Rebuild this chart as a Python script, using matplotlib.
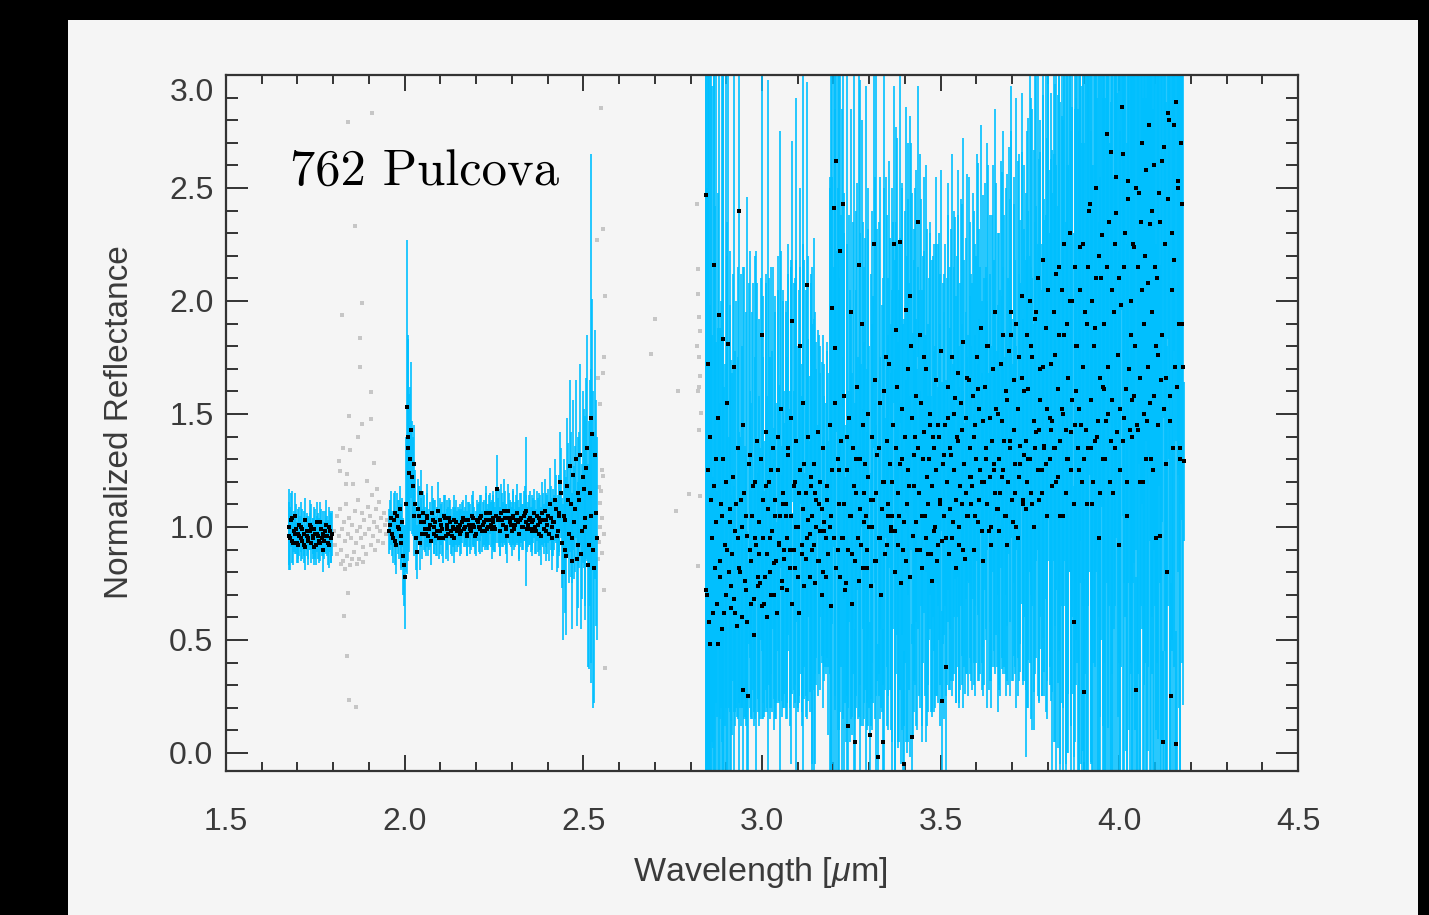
import numpy as np
import matplotlib
matplotlib.use("Agg")
import matplotlib.pyplot as plt
from matplotlib.patches import Rectangle
from matplotlib.ticker import MultipleLocator, FuncFormatter
import matplotlib.transforms as mtransforms

plt.rcParams['font.family'] = ['Liberation Sans', 'DejaVu Sans']
plt.rcParams['mathtext.fontset'] = 'custom'
plt.rcParams['mathtext.rm'] = 'Liberation Sans'
plt.rcParams['mathtext.it'] = 'Liberation Sans:italic'

# ---------------- data ----------------
# segment A (black points with error bars), ~1.68-1.80 um
segA_range = (1.675, 1.797)
segA_y = [1.00,0.95,1.04,0.93,0.97,0.99,0.92,0.96,1.00,0.94,0.97,0.91,0.98,0.95,1.01,
          0.93,0.96,0.99,0.92,0.97,0.94,1.02,0.95,0.90,0.98,0.96,0.93,1.00,0.95,0.97]
segA_err = [0.17,0.14,0.12,0.10,0.09,0.11,0.08,0.09,0.11,0.08,0.10,0.10,0.08,0.09,0.11,
            0.09,0.08,0.10,0.09,0.08,0.10,0.09,0.08,0.10,0.09,0.08,0.10,0.09,0.11,0.10]
segA2_range = (1.677, 1.795)
segA2_y = [0.96,1.03,0.94,0.98,1.05,0.93,0.97,1.01,0.95,0.99,0.92,1.03,0.96,0.94,0.98,
           1.00,0.95,0.91,0.97,1.02,0.96,0.93,0.99,0.97,0.94,1.01,0.96,0.92,0.98,0.95]
segA2_err = [0.15,0.12,0.10,0.09,0.10,0.09,0.11,0.08,0.10,0.09,0.08,0.10,0.09,0.11,0.08,
             0.10,0.09,0.08,0.11,0.09,0.10,0.08,0.09,0.10,0.08,0.11,0.09,0.10,0.09,0.11]

# gray (excluded) points between segments
gray1_x = [1.841,1.909,1.860,1.880,1.824,1.876,1.876,1.905,1.844,1.881,1.906,1.869,1.827,1.847,
           1.817,1.914,1.819,1.840,1.836,1.855,1.894,1.922,1.842,1.830,1.840,1.844,1.863,1.822,
           1.833,1.868,1.884,1.852,
           1.803,1.806,1.810,1.812,1.815,1.818,1.821,1.824,1.827,1.830,1.833,1.836,1.839,1.842,
           1.845,1.848,1.851,1.854,1.857,1.860,1.863,1.866,1.869,1.872,1.875,1.878,1.881,1.884,
           1.887,1.890,1.893,1.896,1.899,1.902,1.905,1.908,1.911,1.914,1.917,1.920,1.923,1.926,
           1.929,1.932,1.935,1.938,1.941,1.944,1.947,1.950]
gray1_y = [2.79,2.83,2.33,1.99,1.94,1.835,1.71,1.595,1.49,1.457,1.477,1.40,1.35,1.34,
           1.29,1.283,1.249,1.234,1.19,1.19,1.205,1.166,0.707,0.604,0.429,0.233,0.202,0.836,
           0.812,0.834,0.843,0.856,
           0.98,0.92,1.05,0.88,0.96,1.08,0.90,0.99,0.85,1.02,0.94,1.10,0.87,0.97,
           1.04,0.83,0.95,1.01,0.89,1.07,0.93,0.98,1.12,0.86,1.00,0.95,1.06,0.91,
           1.03,0.97,0.88,1.09,0.99,1.05,0.92,1.14,0.96,1.02,0.90,1.08,1.00,0.94,
           1.11,0.98,1.04,0.93,1.06,1.01,0.97,1.03]

gray2_x = [2.549,2.554,2.537,2.561,2.558,2.554,2.540,2.547,2.552,2.556,2.545,2.550,2.548,2.553,
           2.546,2.557,2.544,2.551,2.542,2.559,2.560,2.700,2.690,2.765,2.795,2.760,2.818,2.820,
           2.822,2.824,2.826,2.819,2.823,2.827,2.821,2.825,2.828,2.824,2.826,2.822]
gray2_y = [2.855,2.32,2.27,2.02,1.75,1.68,1.66,1.545,1.254,1.225,1.176,1.157,1.108,1.04,
           1.00,0.967,0.934,0.885,0.856,0.72,0.375,1.92,1.767,1.60,1.147,1.069,2.43,2.14,
           2.03,1.93,1.865,1.80,1.75,1.67,1.60,1.62,1.506,1.428,1.137,0.827]

# segment B, ~1.96-2.54 um (two interleaved sets of samples)
segB_range = (1.957, 2.535)
segB_y = ([0.98,1.04,0.95,1.06,0.92,1.00,1.08,0.96,0.87,0.78,1.53,1.40,1.30,1.22,1.28,1.10,0.89,1.05,1.15,0.97]
        + [1.02,0.97,1.05,0.99,0.94,1.03,1.00,0.96,1.07,0.98,1.01,0.95,1.04,0.99,0.97,1.02,0.96,1.03,0.99,0.98]
        + [1.00,0.97,1.02,0.99,1.03,0.96,1.01,0.98,1.04,1.00,0.97,1.02,0.99,1.05,1.01,0.98,1.03,1.00,1.06,0.99]
        + [1.02,0.99,1.17,1.04,0.98,1.03,1.07,1.00,0.96,1.04,1.01,1.05,0.99,1.03,1.02,0.97,1.04,1.00,1.06,1.07]
        + [1.01,1.04,0.98,1.03,1.00,1.05,0.97,1.02,1.06,0.99,1.03,1.01,0.97,1.04,1.00,1.02,1.08,0.98,1.05,1.15]
        + [0.80,1.03,0.87,1.12,1.27,0.95,1.23,1.08,0.86,1.15,1.32,0.98,1.17,1.04,1.35,0.92,1.48,1.41,0.82,1.06])
segB_err = ([.10,.12,.11,.10,.13,.12,.10,.14,.17,.23,.74,.43,.32,.25,.17,.15,.12,.13,.10,.11]
          + [.12,.10,.14,.09,.11,.10,.12,.09,.13,.10,.09,.11,.10,.09,.12,.10,.09,.11,.10,.09]
          + [.08,.10,.09,.08,.11,.09,.10,.08,.12,.09,.10,.08,.11,.09,.10,.08,.12,.10,.09,.13]
          + [.12,.10,.15,.13,.11,.12,.14,.10,.12,.11,.10,.12,.09,.11,.10,.12,.11,.10,.12,.33]
          + [.10,.12,.11,.10,.12,.11,.10,.12,.14,.11,.12,.13,.12,.14,.13,.12,.15,.16,.18,.20]
          + [.30,.22,.35,.25,.38,.20,.33,.28,.30,.25,.40,.30,.35,.45,.50,.55,1.17,.60,.60,.50])
segB2_range = (1.9594, 2.5374)
segB2_y = ([1.01,0.97,1.03,0.94,1.05,0.99,0.93,1.02,0.83,1.10,1.35,1.24,1.43,1.18,1.05,0.95,1.08,0.93,1.02,1.06]
         + [0.99,1.04,0.96,1.01,1.06,0.97,1.02,0.98,0.95,1.03,0.99,1.05,0.96,1.01,1.04,0.98,1.00,0.95,1.02,1.00]
         + [1.01,0.98,1.04,1.00,0.97,1.03,0.99,1.05,1.01,0.96,1.03,1.00,1.04,0.98,1.02,1.06,0.99,1.03,1.01,1.04]
         + [1.00,1.05,1.03,0.98,1.06,1.01,1.04,0.99,1.07,1.02,0.98,1.04,1.01,1.06,0.97,1.03,1.00,1.05,1.02,0.99]
         + [1.03,0.99,1.02,1.06,0.98,1.01,1.04,0.96,1.03,1.07,0.98,1.05,1.10,0.95,1.02,1.12,0.96,1.06,1.20,0.93]
         + [1.05,0.90,1.18,0.97,1.10,0.85,1.02,1.30,0.92,1.12,0.88,1.22,1.00,1.26,0.83,1.15,1.05,0.90,1.32,0.95])
segB2_err = ([.11,.10,.12,.11,.10,.13,.12,.11,.18,.30,.50,.35,.30,.22,.18,.14,.13,.12,.11,.10]
           + [.10,.11,.09,.10,.12,.09,.10,.11,.09,.10,.12,.09,.10,.11,.09,.10,.09,.11,.10,.09]
           + [.09,.10,.08,.09,.10,.08,.11,.09,.10,.08,.09,.11,.10,.09,.10,.12,.09,.11,.10,.12]
           + [.11,.12,.10,.11,.13,.10,.12,.11,.12,.10,.11,.12,.10,.13,.11,.12,.10,.11,.12,.10]
           + [.11,.10,.12,.11,.10,.12,.11,.13,.12,.14,.13,.12,.16,.14,.15,.18,.16,.17,.22,.20]
           + [.25,.28,.30,.22,.32,.30,.25,.35,.28,.30,.33,.38,.35,.40,.45,.50,.65,.70,.55,.45])

# segment C (L band), ~2.84-4.18 um (two interleaved sets of samples)
segC_range = (2.842, 4.182)
segC_y = ([2.47,0.70,1.72,0.48,1.12,0.95,2.16,0.82,1.30,0.48,1.94,0.78,1.05,1.83,0.62,1.20,0.90,1.81,1.02,0.74]
        + [0.88,1.71,0.62,1.10,0.95,2.40,0.80,1.00,0.28,1.15,0.72,0.96,0.25,1.32,0.85,1.05,0.68,1.20,0.92,0.78]
        + [1.02,0.75,1.85,0.95,0.66,1.18,0.88,1.08,0.80,1.25,0.98,0.70,1.12,0.85,1.40,0.93,1.05,0.76,1.15,0.90]
        + [1.10,0.95,1.35,0.82,1.05,1.91,0.90,1.20,1.00,0.78,1.15,1.80,0.92,1.08,1.28,0.86,2.07,1.03,0.97,1.18]
        + [1.05,0.92,1.15,1.00,0.85,1.10,0.98,1.08,0.80,1.02,0.95,1.12,0.88,1.00,1.05,1.97,2.41,1.79,2.62,0.90]
        + [1.25,2.22,0.95,2.43,1.10,0.75,1.40,0.12,1.05,1.95,0.88,1.18,0.05,1.30,0.95,2.16,1.08,1.90,0.82,1.15]
        + [1.05,0.90,1.22,0.08,1.12,1.00,2.25,0.85,1.15,-0.02,1.35,0.95,1.08,0.05,1.20,1.75,0.92,1.10,1.28,1.00]
        + [1.20,2.25,0.98,1.87,1.15,1.05,2.26,1.30,0.90,-0.05,1.96,1.10,1.25,2.02,1.80,0.07,1.18,1.40,1.02,2.35]
        + [1.15,1.85,1.05,1.30,1.75,0.95,1.22,1.10,1.45,0.88,1.18,1.35,1.00,1.25,0.92,1.40,1.12,0.23,1.28,1.05]
        + [0.38,1.20,1.48,1.08,1.32,0.95,1.25,1.57,1.12,1.38,1.00,1.18,1.43,0.90,1.28,1.15,1.66,1.05,1.35,1.22]
        + [1.18,1.40,1.05,1.30,1.61,1.12,1.25,0.98,1.47,1.20,1.35,1.10,1.80,1.22,1.00,1.38,1.28,1.15,1.52,1.08]
        + [1.30,1.15,1.47,1.25,1.38,1.05,1.56,1.20,1.35,1.85,1.12,1.43,1.28,1.00,1.52,1.22,1.36,1.66,1.10,1.32]
        + [1.38,1.20,1.61,1.30,1.80,1.10,1.47,1.35,1.95,1.25,1.43,1.56,1.15,1.71,1.36,1.28,1.52,2.05,1.30,1.43]
        + [1.47,1.35,1.76,1.20,1.61,2.15,1.38,1.52,1.05,1.85,1.43,1.30,1.66,2.00,1.25,1.56,0.58,1.45,1.80,1.35]
        + [1.52,2.24,1.20,1.71,0.27,1.43,1.90,1.35,2.43,1.56,1.10,1.80,1.38,2.10,1.47,0.95,1.66,2.29,1.30,1.61]
        + [1.47,2.74,1.71,1.20,2.66,1.56,1.95,1.35,2.39,1.76,0.92,1.52,2.86,1.38,2.15,1.61,1.05,2.53,1.43,1.85]
        + [1.56,2.24,1.80,0.28,1.43,2.48,1.66,2.05,1.20,1.90,2.58,1.47,1.71,2.34,1.30,1.95,1.58,2.15,0.95,1.76]
        + [2.48,0.96,1.85,0.05,2.68,1.66,0.80,2.83,1.47,0.25,2.05,2.78,1.71,0.04,2.53,1.90,1.35,2.43,1.71,1.29])
segC_err = ([2.6,1.8,2.4,1.5,2.2,2.0,2.5,1.6,2.3,1.4,2.4,1.1,2.0,2.3,1.0,2.2,1.3,2.4,1.2,1.0]
          + [0.8,2.2,0.5,0.9,0.8,2.5,0.6,0.8,0.5,1.0,0.6,1.5,0.6,0.9,0.7,0.9,0.5,1.0,1.3,0.6]
          + [0.9,0.6,1.4,0.8,0.5,0.9,0.7,1.9,0.6,0.9,0.8,0.6,0.9,0.7,0.8,0.7,1.7,0.6,0.9,0.7]
          + [0.9,0.8,0.9,0.7,1.1,0.8,0.7,0.9,1.9,0.6,0.9,0.7,0.8,2.1,0.9,0.7,0.9,0.8,0.7,0.9]
          + [1.1,1.0,0.8,0.7,0.6,0.75,0.7,0.65,0.6,0.7,0.6,0.7,0.8,1.5,2.0,1.4,1.5,1.6,1.2,2.2]
          + [2.0,1.0,1.9,0.9,1.2,0.7,1.7,0.6,1.0,0.9,0.8,1.9,0.5,1.1,0.8,0.9,1.9,0.9,0.7,1.0]
          + [1.9,0.8,1.1,0.5,1.0,0.9,0.9,0.7,2.0,0.5,1.0,0.8,0.9,0.5,1.9,0.8,0.8,1.0,1.0,0.9]
          + [1.3,0.7,1.2,0.9,1.1,1.0,0.8,1.2,1.0,0.5,0.9,1.1,1.2,0.8,0.9,0.5,1.0,1.1,0.9,0.6]
          + [0.9,0.8,1.0,0.9,0.8,0.9,1.1,0.8,0.9,0.7,1.0,0.9,0.8,1.0,0.7,0.9,1.0,0.4,0.8,0.9]
          + [0.5,0.9,0.9,0.8,1.0,0.7,0.9,0.8,0.9,1.0,0.8,0.9,1.0,0.7,0.9,0.8,0.9,0.8,1.0,0.9]
          + [0.9,1.0,0.8,0.9,1.0,0.8,0.9,0.7,1.0,0.9,0.8,0.9,0.8,0.9,0.8,1.0,0.9,0.8,1.0,0.9]
          + [1.0,0.9,1.1,0.9,1.0,0.8,1.0,0.9,1.1,0.9,0.8,1.0,0.9,0.8,1.1,0.9,1.0,1.0,0.8,1.0]
          + [1.1,1.0,1.2,0.9,1.1,1.0,1.2,1.0,1.1,1.0,1.2,1.1,0.9,1.2,1.0,1.1,1.2,1.0,1.0,1.2]
          + [1.2,1.3,1.2,1.4,1.3,1.2,1.5,1.3,1.4,1.2,1.6,1.3,1.4,1.2,1.5,1.3,0.6,1.4,1.3,1.5]
          + [1.6,1.3,1.5,1.7,0.5,1.6,1.4,1.7,1.2,1.6,1.5,1.4,1.7,1.3,1.6,1.4,1.5,1.2,1.6,1.7]
          + [1.7,1.0,1.6,1.5,1.1,1.8,1.4,1.7,1.2,1.6,1.3,1.8,0.9,1.7,1.4,1.6,1.2,1.1,1.7,1.5]
          + [1.8,1.4,1.7,0.5,1.9,1.2,1.8,1.5,1.7,1.6,1.2,1.9,1.7,1.4,1.8,1.6,1.9,1.5,1.3,1.7]
          + [1.3,1.2,1.8,0.4,1.2,1.9,1.0,1.0,2.0,0.5,1.6,1.0,1.9,0.5,1.3,1.7,1.8,1.4,1.5,0.35])
segC2_range = (2.844, 4.176)
segC2_y = ([0.72,1.25,0.58,1.40,0.95,0.62,1.18,1.02,0.66,1.48,0.85,1.10,0.55,1.30,0.92,0.70,1.55,0.80,1.08,0.64]
         + [1.22,0.68,0.98,0.56,1.35,0.82,1.12,0.60,1.45,0.76,1.05,0.58,1.28,0.90,0.66,1.18,0.52,0.95,1.38,0.74]
         + [0.88,1.30,0.65,1.12,0.78,1.42,0.60,1.20,0.95,0.70,1.35,0.84,1.05,0.62,1.25,0.92,1.52,0.73,1.10,0.86]
         + [1.05,0.72,1.32,0.90,1.48,0.66,1.18,0.82,1.38,1.00,0.62,1.25,0.88,1.55,0.74,1.15,0.95,1.40,0.78,1.22]
         + [0.90,1.28,0.75,1.12,1.42,0.85,1.20,0.70,1.35,0.98,0.78,1.18,0.88,1.45,0.65,1.25,0.95,1.55,0.82,1.30]
         + [1.10,0.78,1.38,0.95,1.58,0.72,1.25,0.90,1.48,1.05,0.66,1.35,0.85,1.15,1.62,0.76,1.30,0.92,1.45,1.02]
         + [1.28,0.82,1.50,1.00,0.74,1.40,1.12,1.65,0.85,1.32,0.95,1.55,0.70,1.20,1.60,0.88,1.38,1.05,1.72,0.98]
         + [1.05,1.45,0.80,1.35,1.62,0.92,1.28,0.75,1.52,1.02,1.40,0.85,1.70,1.18,0.78,1.48,0.96,1.32,1.58,0.90]
         + [1.35,0.90,1.55,0.82,1.42,1.05,1.70,0.88,1.30,1.50,0.76,1.40,0.98,1.65,0.85,1.45,1.10,1.78,0.94,1.32]
         + [1.45,0.95,1.62,0.88,1.35,1.75,1.02,1.50,0.82,1.40,1.68,0.92,1.55,1.10,1.82,0.86,1.48,1.05,1.65,1.22]
         + [1.10,1.58,0.90,1.45,1.75,1.02,1.52,1.88,1.20,0.85,1.62,1.30,1.80,0.98,1.48,0.92,1.70,1.25,1.95,1.08]
         + [1.50,0.98,1.72,1.22,1.85,1.05,1.60,0.92,1.78,1.38,1.95,1.02,1.65,1.15,1.90,0.95,1.75,1.28,2.02,1.12]
         + [1.60,1.08,1.85,1.30,2.00,1.15,1.75,1.00,1.92,1.42,2.10,1.12,1.70,1.25,2.18,1.35,1.88,1.05,2.05,1.48]
         + [1.72,1.18,1.95,1.35,2.12,1.22,1.85,1.05,2.05,1.50,2.25,1.15,1.90,1.30,2.30,1.42,2.00,1.10,2.15,1.60]
         + [1.80,1.25,2.05,1.45,2.25,1.30,1.95,1.10,2.15,2.40,1.35,2.00,1.20,1.88,2.50,1.40,2.20,1.15,2.10,1.62]
         + [1.90,1.30,2.15,1.50,2.35,1.38,2.05,1.15,2.25,2.55,1.42,2.10,1.25,1.98,2.65,1.48,2.30,1.20,2.45,1.70]
         + [2.00,1.40,2.25,1.58,2.50,1.45,2.15,1.20,2.35,2.70,1.50,2.20,1.30,2.08,2.78,1.55,2.40,1.25,2.60,1.80]
         + [2.10,1.45,2.35,1.65,2.62,1.52,2.25,1.28,2.45,2.80,1.58,2.30,1.35,2.18,2.88,1.62,2.50,1.30,2.70,1.90])
segC2_err = ([2.4,2.2,2.5,1.8,0.9,0.6,2.1,0.8,0.5,1.0,0.7,0.9,0.5,1.9,0.8,0.5,0.8,0.6,0.9,0.5]
           + [0.9,0.5,0.8,0.4,0.8,0.6,1.0,0.4,0.7,0.6,0.9,0.4,0.8,0.7,0.5,0.9,0.4,0.8,0.7,0.5]
           + [0.7,0.8,0.5,0.9,0.6,0.7,0.4,0.9,0.8,0.5,0.8,0.6,0.9,0.4,0.8,0.7,0.7,0.5,0.9,0.6]
           + [0.9,0.5,0.8,0.7,0.7,0.4,0.9,0.6,0.8,0.8,0.4,0.9,0.7,0.7,0.5,0.9,0.8,0.8,0.6,0.9]
           + [1.0,1.0,0.8,0.7,0.45,0.5,0.6,0.3,0.5,0.6,0.4,0.6,0.5,1.1,1.0,1.3,1.2,1.3,1.4,1.2]
           + [1.0,0.6,1.0,0.8,0.9,0.5,1.0,0.7,0.9,0.9,0.5,1.0,0.7,0.9,0.9,0.6,1.0,0.8,0.9,0.8]
           + [1.0,0.6,1.0,0.8,0.5,1.0,0.9,0.9,0.6,1.0,0.7,1.0,0.5,0.9,0.9,0.6,1.0,0.8,0.9,0.7]
           + [1.0,0.9,0.9,1.0,1.1,0.9,1.0,0.8,1.0,0.9,1.0,0.8,1.0,0.9,0.8,1.0,0.9,1.0,1.0,0.8]
           + [0.8,0.7,0.9,0.7,0.8,0.8,0.9,0.7,0.8,0.8,0.6,0.8,0.8,0.9,0.6,0.8,0.8,0.8,0.7,0.8]
           + [0.8,0.7,0.9,0.6,0.8,0.9,0.7,0.9,0.6,0.8,0.9,0.7,0.9,0.8,0.9,0.6,0.8,0.7,0.9,0.8]
           + [0.7,0.9,0.6,0.8,0.9,0.7,0.8,0.9,0.8,0.6,0.9,0.8,0.9,0.7,0.9,0.6,0.9,0.8,0.9,0.7]
           + [0.8,0.7,0.9,0.8,0.9,0.7,0.9,0.6,0.9,0.8,1.0,0.7,0.9,0.8,1.0,0.7,0.9,0.8,0.9,0.8]
           + [1.0,1.1,0.9,1.1,1.2,1.0,1.1,0.9,1.2,1.0,1.2,0.9,1.1,1.0,1.2,1.1,1.2,0.9,1.2,1.1]
           + [1.2,1.3,1.1,1.3,1.4,1.2,1.4,1.1,1.4,1.3,1.4,1.2,1.4,1.3,1.5,1.3,1.4,1.2,1.4,1.3]
           + [1.4,1.5,1.3,1.5,1.6,1.4,1.6,1.3,1.5,1.6,1.4,1.6,1.4,1.5,1.6,1.5,1.6,1.4,1.6,1.5]
           + [1.5,1.6,1.4,1.6,1.7,1.5,1.7,1.4,1.6,1.6,1.5,1.7,1.5,1.6,1.6,1.6,1.7,1.5,1.7,1.6]
           + [1.6,1.7,1.5,1.7,1.6,1.6,1.8,1.5,1.7,1.6,1.6,1.8,1.6,1.7,1.5,1.7,1.8,1.6,1.7,1.7]
           + [1.7,1.8,1.6,1.8,1.6,1.7,1.8,1.6,1.8,1.5,1.7,1.8,1.7,1.8,1.5,1.8,1.7,1.7,1.6,1.5])

x_ticks = [1.5, 2.0, 2.5, 3.0, 3.5, 4.0, 4.5]
y_ticks = [0.0, 0.5, 1.0, 1.5, 2.0, 2.5, 3.0]
title_text = "762 Pulcova"

# ---------------- figure ----------------
W, H = 1429, 915
fig = plt.figure(figsize=(W / 100, H / 100), dpi=100, facecolor='black')
panel = '#f5f5f5'
fig.patches.append(Rectangle((68 / W, 0), 1350 / W, 895 / H, transform=fig.transFigure,
                             facecolor=panel, edgecolor='none', zorder=-10))
ax = fig.add_axes([226 / W, 1 - 771 / H, 1072 / W, 696 / H])
ax.set_zorder(5)
ax.set_facecolor(panel)

blue = '#00bfff'
segments = [(segA_range, segA_y, segA_err), (segA2_range, segA2_y, segA2_err),
            (segB_range, segB_y, segB_err), (segB2_range, segB2_y, segB2_err),
            (segC_range, segC_y, segC_err), (segC2_range, segC2_y, segC2_err)]

ax.plot(gray1_x, gray1_y, 's', ms=2.6, color='#c6c6c6', mew=0, zorder=1)
ax.plot(gray2_x, gray2_y, 's', ms=2.6, color='#c6c6c6', mew=0, zorder=1)

pts = []
for rng, y, err in segments:
    y = np.asarray(y, float)
    err = np.asarray(err, float)
    assert len(y) == len(err)
    x = np.linspace(rng[0], rng[1], len(y))
    ax.vlines(x, y - err, y + err, colors=blue, lw=1.2, zorder=2)
    pts.append((x, y))
for x, y in pts:
    ax.plot(x, y, 's', ms=3.3, color='black', mew=0, zorder=4)

ax.set_xlim(1.5, 4.5)
ax.set_ylim(-0.08, 3.0)

tc = '#333333'
for s in ax.spines.values():
    s.set_linewidth(1.6)
    s.set_color(tc)
    s.set_zorder(6)

ax.set_xticks(x_ticks)
ax.set_yticks(y_ticks)
ax.xaxis.set_minor_locator(MultipleLocator(0.1))
ax.yaxis.set_minor_locator(MultipleLocator(0.1))
ax.xaxis.set_major_formatter(FuncFormatter(lambda v, p: f"{v:.1f}"))
ax.yaxis.set_major_formatter(FuncFormatter(lambda v, p: "" if v > 2.95 else f"{v:.1f}"))
ax.tick_params(which='both', direction='in', top=True, right=True, color=tc, width=1.4,
               labelsize=23, labelcolor='#3a3a3a')
ax.tick_params(axis='x', which='major', length=11.5, pad=26)
ax.tick_params(axis='x', which='minor', length=6.5)
ax.tick_params(axis='y', which='major', length=15.8, pad=9)
ax.tick_params(axis='y', which='minor', length=8.6)

# the top label "3.0" sits slightly below its tick
trans = mtransforms.blended_transform_factory(ax.transAxes, ax.transData) + \
    mtransforms.ScaledTranslation(-12 / 100, -18 / 100, fig.dpi_scale_trans)
ax.text(0, 3.0, "3.0", transform=trans, ha='right', va='center', fontsize=23,
        color='#3a3a3a', clip_on=False)

ax.text(1.679, 2.512, title_text, family='cmr10', fontsize=36.5, color='black',
        va='baseline', ha='left', zorder=7)

fig.text(120 / W, 1 - 422 / H, "Normalized Reflectance", rotation=90, ha='center', va='center',
         fontsize=24, color='#3a3a3a')
fig.text(760 / W, 1 - 873 / H, "Wavelength [$\\mu$m]", ha='center', va='center',
         fontsize=24.5, color='#3a3a3a')

fig.savefig("out.png", dpi=100, facecolor='black')
